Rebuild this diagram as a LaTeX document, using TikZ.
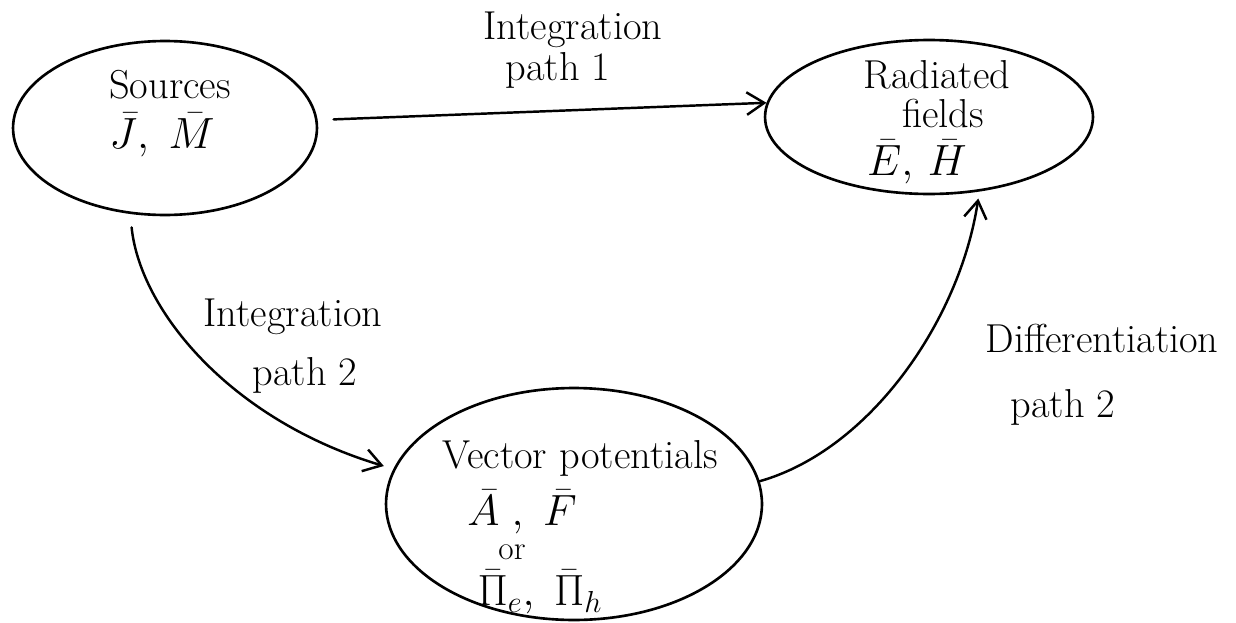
\documentclass[tikz,border=0pt]{standalone}
\usetikzlibrary{shapes.geometric,arrows.meta}
\begin{document}
\begin{tikzpicture}[x=0.02cm,y=-0.02cm,
  blob/.style={draw,ellipse,line width=1.5pt,inner sep=0pt},
  lbl/.style={font=\fontsize{23}{27}\selectfont,align=center,inner sep=0pt},
  small/.style={font=\fontsize{19}{22}\selectfont,inner sep=0pt},
  link/.style={line width=1.4pt,line cap=round,
    -{Straight Barb[length=3.5mm,width=4.5mm,line width=1.4pt]}},
]
\useasboundingbox (0,0) rectangle (1236,622);

% the three quantities
\node[blob,minimum width=6.08cm,minimum height=3.48cm] (src) at (165,128) {};
\node[blob,minimum width=6.56cm,minimum height=3.08cm] (rad) at (929,117) {};
\node[blob,minimum width=7.52cm,minimum height=4.64cm] (vec) at (574,504) {};

% their contents
\node[lbl] (tsrc)  at (170,85)  {Sources};
\node[lbl] (vsrc)  at (162,135) {$\bar{J},\ \bar{M}$};
\node[lbl] (trad1) at (937,75)  {Radiated};
\node[lbl] (trad2) at (943,113) {fields};
\node[lbl] (vrad)  at (917,162) {$\bar{E},\,\bar{H}$};
\node[lbl] (tvec)  at (580,458) {Vector potentials};
\node[lbl] (vvec1) at (522,512) {$\bar{A}\ ,\ \bar{F}$};
\node[small] (tor) at (512,552) {or};
\node[lbl] (vvec2) at (540,592) {$\bar{\Pi}_e,\ \bar{\Pi}_h$};

% the paths between them
\draw[link,shorten <=0.32cm] (src.3) -- (rad.175);
\draw[link,shorten <=0.27cm,shorten >=0.2cm]
  (src.-112) .. controls (140,310) and (230,420) .. (vec.169);
\draw[link,shorten >=0.14cm]
  (vec.7) .. controls (870,450) and (960,320) .. (rad.-56);

% path labels
\node[lbl] (lp1a) at (573,30)   {Integration};
\node[lbl] (lp1b) at (558,70)   {path 1};
\node[lbl] (lp2a) at (293,317)  {Integration};
\node[lbl] (lp2b) at (305,375)  {path 2};
\node[lbl] (ld2a) at (1102,338) {Differentiation};
\node[lbl] (ld2b) at (1063,407) {path 2};
\end{tikzpicture}
\end{document}
